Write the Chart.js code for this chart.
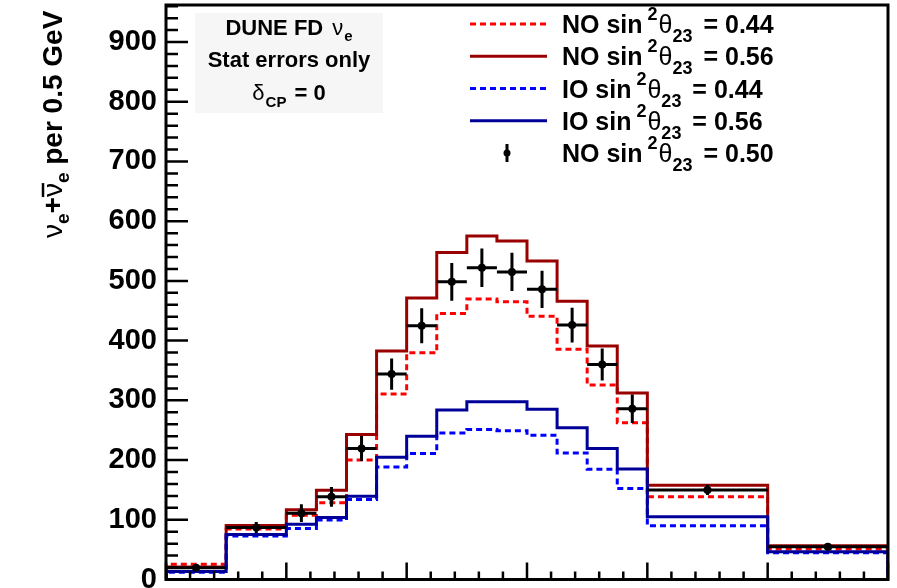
<!DOCTYPE html>
<html>
<head>
<meta charset="utf-8">
<script src="https://cdn.jsdelivr.net/npm/chart.js@4.4.1/dist/chart.umd.min.js"></script>
<style>
  html, body { margin: 0; padding: 0; background: #fff; overflow: hidden; }
  canvas { display: block; }
</style>
</head>
<body>
<canvas id="c" width="897" height="588"></canvas>
<script>
// Reconstructed-energy bin edges (GeV)
const binEdges = [0, 0.5, 1.0, 1.25, 1.5, 1.75, 2.0, 2.25, 2.5, 2.75, 3.0, 3.25, 3.5, 3.75, 4.0, 5.0, 6.0];

// Predicted nu_e + nubar_e appearance spectra, events per 0.5 GeV
const noLow  = [25.5, 84.5, 107.5, 128.5, 200, 310.5, 379.5, 445.5, 469.5, 465, 441, 385.5, 325.5, 262.5, 138.5, 51];
const noHigh = [21, 90.5, 117, 149.5, 243, 382.5, 471.5, 547.5, 575, 567, 533.5, 466, 391, 312.5, 158, 56.5];
const ioLow  = [12, 73, 85.5, 99.5, 134, 188.5, 211, 245.5, 251, 249, 241.5, 212, 184.5, 152.5, 90, 45];
const ioHigh = [13.5, 75.5, 92.5, 104, 139.5, 204.5, 240, 284, 297.5, 297.5, 285, 254, 219.5, 185, 105, 46.5];

// Central NO sin^2(theta23) = 0.50 spectrum with its statistical errors
const noMid    = [19.5, 87, 111, 138.5, 219.5, 344, 425, 498.5, 522, 515, 486, 426, 360, 286, 150, 55];
const noMidErr = [4.4, 9.3, 14.9, 16.6, 21, 26.2, 29.2, 31.6, 32.3, 32.1, 31.2, 29.2, 26.8, 23.9, 8.7, 5.2];

const yTickLabels = ['0', '100', '200', '300', '400', '500', '600', '700', '800', '900'];

// Legend text pieces: mass ordering and sin^2(theta23) value
const legendOrdering = ['NO', 'NO', 'IO', 'IO', 'NO'];
const legendSin2     = ['0.44', '0.56', '0.44', '0.56', '0.50'];

const titleLines = ['DUNE FD', 'Stat errors only'];

const FONT = '"Liberation Sans", Arial, Helvetica, sans-serif';

// Turn bin contents into a closed histogram outline
function histOutline(vals) {
  const pts = [{ x: binEdges[0], y: 0 }];
  vals.forEach((v, i) => {
    pts.push({ x: binEdges[i], y: v });
    pts.push({ x: binEdges[i + 1], y: v });
  });
  pts.push({ x: binEdges[binEdges.length - 1], y: 0 });
  return pts;
}

const centres = noMid.map((v, i) => ({ x: (binEdges[i] + binEdges[i + 1]) / 2, y: v }));

// Draw a run of text pieces with super/subscripts
function drawRich(ctx, parts, x, y, align) {
  let w = 0;
  parts.forEach(p => {
    ctx.font = p.font;
    p.w = ctx.measureText(p.text).width;
    w += p.w + (p.gap || 0);
  });
  let cx = align === 'center' ? x - w / 2 : x;
  const pos = [];
  parts.forEach(p => {
    cx += p.gap || 0;
    ctx.font = p.font;
    ctx.fillText(p.text, cx, y + (p.dy || 0));
    pos.push({ x: cx, w: p.w });
    cx += p.w;
  });
  return pos;
}

const decorations = {
  id: 'decorations',
  afterDatasetsDraw(chart) {
    const { ctx, chartArea: a, scales: { x, y } } = chart;
    ctx.save();
    // error bars of the central spectrum
    ctx.strokeStyle = '#000';
    ctx.lineWidth = 3;
    noMid.forEach((v, i) => {
      const xl = x.getPixelForValue(binEdges[i]);
      const xr = x.getPixelForValue(binEdges[i + 1]);
      const xc = x.getPixelForValue((binEdges[i] + binEdges[i + 1]) / 2);
      const yc = y.getPixelForValue(v);
      ctx.beginPath();
      ctx.moveTo(xl, yc); ctx.lineTo(xr, yc);
      ctx.moveTo(xc, y.getPixelForValue(v - noMidErr[i]));
      ctx.lineTo(xc, y.getPixelForValue(v + noMidErr[i]));
      ctx.stroke();
    });

    // frame
    ctx.lineWidth = 3;
    ctx.strokeRect(a.left, a.top, a.right - a.left, a.bottom - a.top);

    // y ticks (inside the frame)
    ctx.lineWidth = 2.5;
    ctx.beginPath();
    for (let v = 0; v <= y.max; v += 20) {
      const py = y.getPixelForValue(v);
      const len = v % 100 === 0 ? 22 : 12;
      ctx.moveTo(a.left, py); ctx.lineTo(a.left + len, py);
    }
    // x ticks
    for (let k = 0; k <= 30; k++) {
      const px = x.getPixelForValue(k * 0.2);
      const len = k % 5 === 0 ? 17 : 8;
      ctx.moveTo(px, a.bottom); ctx.lineTo(px, a.bottom - len);
    }
    ctx.stroke();
    ctx.restore();
  },
  afterDraw(chart) {
    const { ctx } = chart;
    ctx.save();
    ctx.fillStyle = '#000';
    ctx.textBaseline = 'alphabetic';

    // info box
    ctx.fillStyle = '#f6f6f6';
    ctx.fillRect(195, 13, 188, 100);
    ctx.fillStyle = '#000';
    drawRich(ctx, [
      { text: titleLines[0], font: 'bold 22px ' + FONT },
      { text: 'ν', font: '22px ' + FONT, gap: 9 },
      { text: 'e', font: 'bold 15px ' + FONT, dy: 6, gap: 1 }
    ], 289, 35, 'center');
    drawRich(ctx, [{ text: titleLines[1], font: 'bold 22px ' + FONT }], 289, 67, 'center');
    drawRich(ctx, [
      { text: 'δ', font: '22px ' + FONT },
      { text: 'CP', font: 'bold 15px ' + FONT, dy: 7, gap: 1 },
      { text: ' = 0', font: 'bold 22px ' + FONT, gap: 2 }
    ], 289, 100, 'center');

    // legend
    const rowY0 = 24, rowStep = 32.25;
    const ds = chart.data.datasets;
    const legendSets = [ds[4], ds[3], ds[2], ds[1], ds[0]];
    legendSets.forEach((d, i) => {
      const cy = rowY0 + i * rowStep;
      ctx.save();
      if (i < 4) {
        ctx.strokeStyle = d.borderColor;
        ctx.lineWidth = 3;
        ctx.setLineDash(d.borderDash || []);
        ctx.beginPath();
        ctx.moveTo(470, cy); ctx.lineTo(547, cy);
        ctx.stroke();
      } else {
        ctx.strokeStyle = '#000';
        ctx.lineWidth = 3;
        ctx.beginPath();
        ctx.moveTo(507, cy - 9); ctx.lineTo(507, cy + 9);
        ctx.stroke();
        ctx.beginPath();
        ctx.arc(507, cy, 3.5, 0, Math.PI * 2);
        ctx.fill();
      }
      ctx.restore();
      drawRich(ctx, [
        { text: legendOrdering[i] + ' sin', font: 'bold 25px ' + FONT },
        { text: '2', font: 'bold 18px ' + FONT, dy: -13, gap: 5 },
        { text: 'θ', font: '25px ' + FONT, gap: 1 },
        { text: '23', font: 'bold 18px ' + FONT, dy: 9 },
        { text: ' = ' + legendSin2[i], font: 'bold 25px ' + FONT, gap: 4 }
      ], 562, cy + 9, 'left');
    });

    // y-axis title
    ctx.translate(62, 238);
    ctx.rotate(-Math.PI / 2);
    const pos = drawRich(ctx, [
      { text: 'ν', font: '28px ' + FONT },
      { text: 'e', font: 'bold 19px ' + FONT, dy: 7 },
      { text: '+', font: 'bold 28px ' + FONT },
      { text: 'ν', font: '28px ' + FONT },
      { text: 'e', font: 'bold 19px ' + FONT, dy: 7 },
      { text: ' per 0.5 GeV', font: 'bold 28px ' + FONT }
    ], 0, 0, 'left');
    ctx.lineWidth = 2.5;
    ctx.strokeStyle = '#000';
    ctx.beginPath();
    ctx.moveTo(pos[3].x, -19); ctx.lineTo(pos[3].x + pos[3].w, -19);
    ctx.stroke();
    ctx.restore();
  }
};

new Chart(document.getElementById('c'), {
  type: 'line',
  data: {
    datasets: [
      {
        label: 'NO sin2 0.50', type: 'scatter', data: centres, showLine: false,
        pointRadius: 4, pointBackgroundColor: '#000', pointBorderWidth: 0, order: 0
      },
      {
        label: 'IO sin2 0.56', data: histOutline(ioHigh), borderColor: '#000099',
        borderWidth: 3, pointRadius: 0, fill: false, order: 1
      },
      {
        label: 'IO sin2 0.44', data: histOutline(ioLow), borderColor: '#0000ff',
        borderWidth: 3, borderDash: [6, 4], pointRadius: 0, fill: false, order: 2
      },
      {
        label: 'NO sin2 0.56', data: histOutline(noHigh), borderColor: '#990000',
        borderWidth: 3, pointRadius: 0, fill: false, order: 3
      },
      {
        label: 'NO sin2 0.44', data: histOutline(noLow), borderColor: '#ff0000',
        borderWidth: 3, borderDash: [6, 4], pointRadius: 0, fill: false, order: 4
      }
    ]
  },
  options: {
    responsive: false,
    animation: false,
    devicePixelRatio: 1,
    layout: { autoPadding: false, padding: { left: 0, right: 9, top: 5, bottom: 8.5 } },
    elements: { line: { tension: 0 } },
    plugins: { legend: { display: false }, tooltip: { enabled: false } },
    scales: {
      x: { type: 'linear', min: 0, max: 6, display: false },
      y: {
        type: 'linear', min: 0, max: 962,
        grid: { display: false, drawTicks: false },
        border: { display: false },
        afterBuildTicks: s => { s.ticks = yTickLabels.map(l => ({ value: Number(l) })); },
        afterFit: s => { s.width = 166; s.paddingTop = 0; s.paddingBottom = 0; },
        ticks: {
          padding: 9,
          color: '#000',
          font: { family: FONT, weight: 'bold', size: 29 },
          callback: (v, i) => yTickLabels[i]
        }
      }
    }
  },
  plugins: [decorations]
});
</script>
</body>
</html>
